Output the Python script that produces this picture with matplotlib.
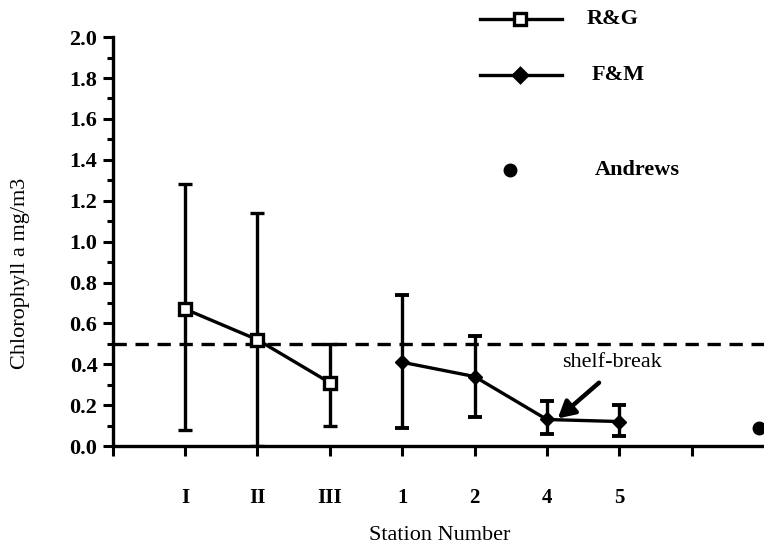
import matplotlib.pyplot as plt
from matplotlib.lines import Line2D
from matplotlib.ticker import MultipleLocator

# station labels on the x axis (positions 1..7), blank ticks at 0 and 8
STATION_LABELS = ["", "I", "II", "III", "1", "2", "4", "5", ""]

rg_x = [1, 2, 3]
rg_y = [0.67, 0.52, 0.31]
rg_lo = [0.08, 0.0, 0.10]
rg_hi = [1.28, 1.14, 0.50]

fm_x = [4, 5, 6, 7]
fm_y = [0.41, 0.34, 0.13, 0.12]
fm_lo = [0.09, 0.14, 0.06, 0.05]
fm_hi = [0.74, 0.54, 0.22, 0.20]

andrews_x = [8.93]
andrews_y = [0.09]

threshold = 0.5

SERIF = ["Liberation Serif", "DejaVu Serif"]


def _errs(y, lo, hi):
    return [[v - l for v, l in zip(y, lo)], [h - v for v, h in zip(y, hi)]]


fig = plt.figure(figsize=(7.64, 5.46), dpi=100)
ax = fig.add_axes([0.1476, 0.183, 0.8524, 0.749])

err_kw = dict(color="black", lw=2.4, capsize=5, capthick=2.8, elinewidth=2.4)
ax.errorbar(rg_x, rg_y, yerr=_errs(rg_y, rg_lo, rg_hi), marker="s", ms=8,
            mfc="white", mec="black", mew=2.4, zorder=3, **err_kw)
ax.errorbar(fm_x, fm_y, yerr=_errs(fm_y, fm_lo, fm_hi), marker="D", ms=7,
            mfc="black", mec="black", zorder=3, **err_kw)
ax.plot(andrews_x, andrews_y, "o", color="black", ms=9, clip_on=False, zorder=3)

ax.axhline(threshold, color="black", lw=2.4, ls=(0, (4, 2.6)), zorder=2)

# arrow drawn separately so the shaft starts just under the label
ax.annotate("", xy=(6.15, 0.135), xytext=(6.72, 0.31),
            arrowprops=dict(arrowstyle="-|>,head_length=1.0,head_width=0.55",
                            color="black", lw=3.2, shrinkA=0, shrinkB=0))
ax.text(6.9, 0.41, "shelf-break", ha="center", va="center", fontsize=16,
        family=SERIF)

ax.set_xlim(0, 9.0)
ax.set_ylim(0, 2.0)
ax.set_xticks(range(len(STATION_LABELS)))
ax.set_xticklabels(STATION_LABELS)
ax.yaxis.set_major_locator(MultipleLocator(0.2))
ax.yaxis.set_minor_locator(MultipleLocator(0.1))
ax.yaxis.set_major_formatter(plt.FormatStrFormatter("%.1f"))

ax.spines["top"].set_visible(False)
ax.spines["right"].set_visible(False)
for s in ("left", "bottom"):
    ax.spines[s].set_linewidth(2.4)

ax.tick_params(axis="y", which="major", length=7, width=2.2, direction="out", pad=4)
ax.tick_params(axis="y", which="minor", length=4, width=2.2, direction="out")
ax.tick_params(axis="x", which="major", length=7, width=2.2, direction="out", pad=23)
for lab in ax.get_yticklabels():
    lab.set_fontfamily(SERIF)
    lab.set_fontweight("bold")
    lab.set_fontsize(16)
for lab in ax.get_xticklabels():
    lab.set_fontfamily(SERIF)
    lab.set_fontweight("bold")
    lab.set_fontsize(15)

fig.text(0.027, 0.5, "Chlorophyll a mg/m3", rotation=90, ha="center", va="center",
         fontsize=16, family=SERIF)
fig.text(0.575, 0.02, "Station Number", ha="center", va="center",
         fontsize=16, family=SERIF)

# hand-drawn style legend in the upper right
lg_x0, lg_x1, lg_xm = 480 / 764, 562 / 764, 520 / 764
rows = [(1 - 19 / 546, "s", "white", "R&G", 587 / 764, True),
        (1 - 75 / 546, "D", "black", "F&M", 592 / 764, True),
        (1 - 170 / 546, "o", "black", "Andrews", 595 / 764, False)]
for y, mk, face, label, tx, with_line in rows:
    if with_line:
        fig.add_artist(Line2D([lg_x0, lg_x1], [y, y], color="black", lw=2.4,
                              transform=fig.transFigure))
        fig.add_artist(Line2D([lg_xm], [y], marker=mk, ms=8 if mk == "s" else 7,
                              mfc=face, mec="black", mew=2.4, color="black",
                              transform=fig.transFigure))
    else:
        fig.add_artist(Line2D([510 / 764], [y], marker=mk, ms=9, color="black",
                              transform=fig.transFigure))
    fig.text(tx, y, label, ha="left", va="center", fontsize=16, family=SERIF,
             fontweight="bold")

fig.savefig("out.png", dpi=100)
